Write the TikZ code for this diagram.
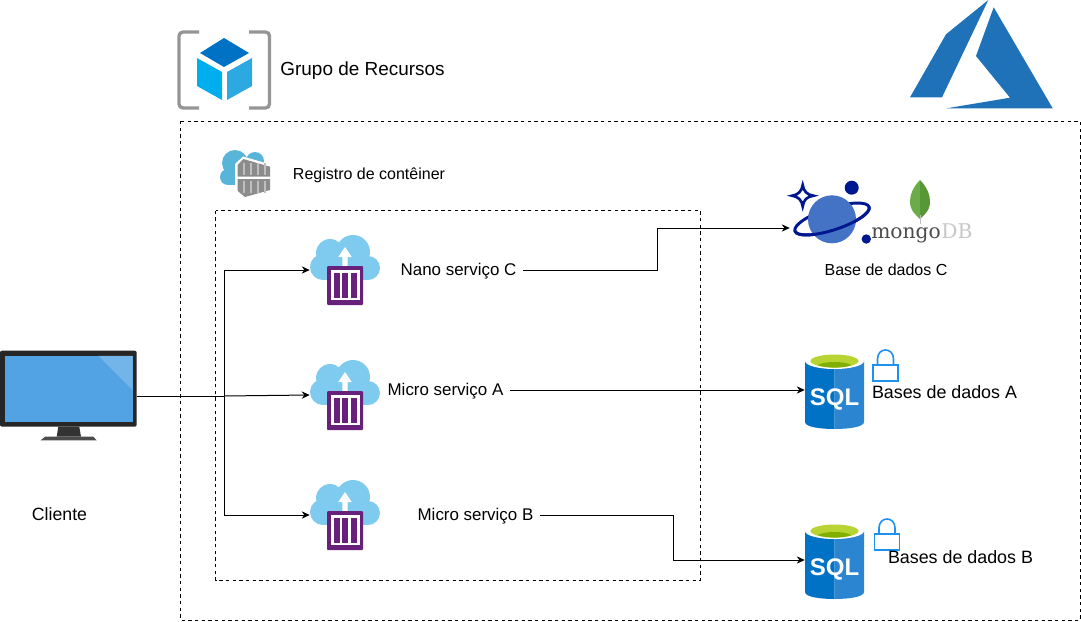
\documentclass[tikz,border=0pt]{standalone}
\usepackage{fontspec}
\setmainfont{Liberation Sans}
\newfontfamily\mongofont{DejaVu Serif}
\usetikzlibrary{arrows.meta,
                positioning
            }

\definecolor{azureblue}{HTML}{2072B8}
\definecolor{sqldark}{HTML}{0072C6}
\definecolor{sqllight}{HTML}{2B85D0}
\definecolor{cloudblue}{HTML}{7FCBEF}
\definecolor{boxpurple}{HTML}{68217A}
\definecolor{lockblue}{HTML}{1E90F0}
\definecolor{orbitblue}{HTML}{00188F}
\definecolor{planetblue}{HTML}{4472C4}
\definecolor{registryblue}{HTML}{59B4D9}
\definecolor{cubeleft}{HTML}{00ADEF}
\definecolor{cuberight}{HTML}{2CA9E1}
\definecolor{bracketgray}{HTML}{959595}
\definecolor{screenblue}{HTML}{51A3E3}
\definecolor{sqlgreen}{HTML}{B8D432}
\definecolor{sqlgreendark}{HTML}{7FB000}
\definecolor{leafleft}{HTML}{6CAC48}
\definecolor{leafright}{HTML}{589636}

\tikzset{
    conn/.style={draw, line width=0.75pt, -{Stealth[length=6pt, width=5.5pt]}},
    plainconn/.style={draw, line width=0.75pt},
    dashbox/.style={draw, line width=0.75pt, dash pattern=on 2.5pt off 2.5pt},
    iconbox/.style={inner sep=0pt, minimum height=30pt},
    textlabel/.style={inner sep=5pt, font=\fontsize{12}{14}\selectfont, text height=10.5pt, text depth=2.2pt},
    containericon/.pic={
        \fill[cloudblue] (8,-18) circle (17);
        \fill[cloudblue] (-15,-17) circle (14);
        \fill[cloudblue] (-22,-3) circle (13);
        \fill[cloudblue] (23,-2) circle (12);
        \fill[cloudblue] (-22,-16) rectangle (23,10);
        \fill[white] (-2.7,-4) -- (-2.7,-13) -- (-6.7,-13) -- (0,-23) -- (6.7,-13) -- (2.7,-13) -- (2.7,-4) -- cycle;
        \fill[boxpurple, rounded corners=0.75pt] (-18,-4) rectangle (18,35);
        \fill[white] (-14,0) rectangle (15,30);
        \foreach \barx in {-11.5,-2.7,6}
            \fill[boxpurple] (\barx,3) rectangle ++(6,25);
    },
    sqlicon/.pic={
        \fill[sqldark] (-29.5,-30) -- (0,-30) -- (0,38) .. controls (-14,38) and (-29.5,36) .. (-29.5,31) -- cycle;
        \fill[sqllight] (29.5,-30) -- (0,-30) -- (0,38) .. controls (14,38) and (29.5,36) .. (29.5,31) -- cycle;
        \fill[white] (0,-30) ellipse (29.5 and 8);
        \fill[sqlgreen] (0,-30) ellipse (24 and 6.5);
        \fill[sqlgreendark] (-17,-26) .. controls (-9,-30) and (9,-30) .. (17,-26) .. controls (9,-22.5) and (-9,-22.5) .. (-17,-26) -- cycle;
        \node[text=white, font=\fontsize{18}{20}\bfseries\selectfont, inner sep=0pt] at (0,8) {SQL};
    },
    lockicon/.pic={
        \draw[lockblue, line width=1.2pt, fill=white] (0,0) rectangle (25,16);
        \draw[lockblue, line width=1.2pt] (4.5,0) -- (4.5,-6) .. controls (4.5,-18) and (20.5,-18) .. (20.5,-6) -- (20.5,0);
    }
}

\begin{document}
\begin{tikzpicture}[x=0.75pt, y=-0.75pt]
    \useasboundingbox (0,0) rectangle (1081,621);

    % group and registry frames
    \draw[dashbox] (180.5,121) rectangle (1080,620);
    \draw[dashbox] (215.5,210.5) rectangle (700.5,580);

    % azure logo
    \fill[azureblue] (988.3,0) -- (946,34.3) -- (910,97.3) -- (942,97.3) -- cycle;
    \fill[azureblue] (993.7,7.3) -- (976,56) -- (1010,97.7) -- (946.7,108.3) -- (1052.7,108.3) -- cycle;

    % resource group icon
    \draw[line width=2.5pt, bracketgray, rounded corners=3pt] (199,32) -- (179,32) -- (179,108) -- (199,108);
    \draw[line width=2.5pt, bracketgray, rounded corners=3pt] (249,32) -- (269.5,32) -- (269.5,108) -- (249,108);
    \fill[sqldark] (224,38) -- (249,53) -- (224,67) -- (200,53) -- cycle;
    \fill[cubeleft] (197,58) -- (222,72) -- (222,100) -- (197,86) -- cycle;
    \fill[cuberight] (227,72) -- (252,58) -- (252,86) -- (227,100) -- cycle;
    \node[textlabel, font=\fontsize{14.2}{16}\selectfont] (grupo) at (362.5,70) {Grupo de Recursos};

    % registry icon
    \fill[registryblue] (235,163) circle (13);
    \fill[registryblue] (228,177) circle (8);
    \fill[registryblue] (255,161) circle (9);
    \fill[registryblue] (228,165) rectangle (258,185);
    \fill[white] (235,164) -- (243,156.5) -- (272.5,165) -- (272.5,191) -- (245,199.5) -- (235,192) -- cycle;
    \fill[black!45] (237.7,165) -- (243.3,159) -- (270,166.7) -- (270,176.7) -- (237.7,176.7) -- cycle;
    \fill[black!45] (237.7,179) -- (270,179) -- (270,190) -- (245,197) -- (237.7,191) -- cycle;
    \foreach \stripex in {244,251,258,265} {
        \draw[black!25, line width=1pt] (\stripex,163) -- (\stripex,175);
        \draw[black!25, line width=1pt] (\stripex,181) -- (\stripex,193);
    }
    \node[textlabel] (registro) at (369,174) {Registro de contêiner};

    % client
    \node[iconbox, minimum width=102.5pt] (client) at (68.3,396) {};
    \fill[black!85, rounded corners=1.5pt] (0,350.7) rectangle (136.7,426.7);
    \fill[screenblue] (4.7,355.7) rectangle (132.7,422);
    \fill[white, opacity=0.2] (98.3,355.7) -- (132.7,355.7) -- (132.7,390) -- cycle;
    \fill[black!80] (58.3,426.7) -- (79.3,426.7) -- (81,436.7) -- (56.7,436.7) -- cycle;
    \fill[black!70] (45,436.7) -- (93.3,436.7) -- (96.7,440.3) -- (40.7,440.3) -- cycle;
    \node[textlabel, font=\fontsize{13.3}{15}\selectfont] (cliente) at (59.5,515) {Cliente};

    % services
    \node[iconbox, minimum width=52.5pt] (nanoC) at (345,270) {};
    \node[iconbox, minimum width=52.5pt] (microA) at (345,395) {};
    \node[iconbox, minimum width=52.5pt] (microB) at (345,515) {};
    \pic at (nanoC) {containericon};
    \pic at (microA) {containericon};
    \pic at (microB) {containericon};
    \node[textlabel, font=\fontsize{12.7}{15}\selectfont] (nanoText) at (458.5,270) {Nano serviço C};
    \node[textlabel, font=\fontsize{12.7}{15}\selectfont] (microAText) at (445.5,390) {Micro serviço A};
    \node[textlabel, font=\fontsize{12.7}{15}\selectfont] (microBText) at (475.5,515) {Micro serviço B};

    % databases
    \node[iconbox, minimum width=44.25pt] (sqlA) at (834.5,390) {};
    \node[iconbox, minimum width=44.25pt] (sqlB) at (834.5,560) {};
    \pic at (834.5,391) {sqlicon};
    \pic at (834.5,561) {sqlicon};
    \pic at (873,365) {lockicon};
    \pic at (874.5,534) {lockicon};
    \node[textlabel, font=\fontsize{13.4}{15}\selectfont] (basesA) at (944.5,393) {Bases de dados A};
    \node[textlabel, font=\fontsize{13.4}{15}\selectfont] (basesB) at (960.5,558) {Bases de dados B};

    % cosmos and mongo
    \node[iconbox, minimum width=63pt] (cosmos) at (832,228) {};
    \draw[orbitblue, line width=2.2pt, rotate around={18:(832,219)}] (832,219) ellipse (39 and 11);
    \fill[planetblue] (832,219.3) circle (24);
    \draw[orbitblue, line width=2.2pt, rotate around={18:(832,219)}] (871,219) arc[start angle=0, end angle=180, x radius=39, y radius=11];
    \fill[orbitblue] (851.7,187.7) circle (7);
    \fill[orbitblue] (866.3,239) circle (4.7);
    \draw[orbitblue, line width=2pt, line join=miter] (802.7,185) .. controls (803.5,191) and (807,195) .. (813.5,195.7) .. controls (807,196.5) and (803.5,200) .. (802.7,206.5) .. controls (802,200) and (798,196.5) .. (792,195.7) .. controls (798,195) and (802,191) .. (802.7,185) -- cycle;
    \fill[leafleft] (920,180) .. controls (912,188) and (910,196) .. (910,202) .. controls (910,211) and (917,216) .. (920,219) -- cycle;
    \fill[leafright] (920,180) .. controls (928,188) and (930,196) .. (930,202) .. controls (930,211) and (923,216) .. (920,219) -- cycle;
    \fill[black!25] (919.5,215) rectangle (920.5,224);
    \node[inner sep=0pt, anchor=base west, text=black!70, font=\mongofont\fontsize{15.2}{16}\selectfont] (mongo) at (871,238) {mongo};
    \node[inner sep=0pt, anchor=base west, text=black!22, font=\mongofont\fontsize{15.2}{16}\selectfont] (mongoDB) at (mongo.base east) {DB};
    \node[textlabel] (baseC) at (886,270) {Base de dados C};

    % connectors
    \coordinate (split) at (224,396);
    \draw[plainconn] (client.east) -- (split);
    \draw[conn] (split) -- (microA.west);
    \draw[conn] (split) |- (nanoC.west);
    \draw[conn] (split) |- (microB.west);
    \draw[conn] (nanoText.east) -- (657,270) -- (657,228) -- (cosmos.west);
    \draw[conn] (microAText.east) -- (sqlA.west);
    \draw[conn] (microBText.east) -- (673,515) -- (673,560) -- (sqlB.west);
\end{tikzpicture}
\end{document}
